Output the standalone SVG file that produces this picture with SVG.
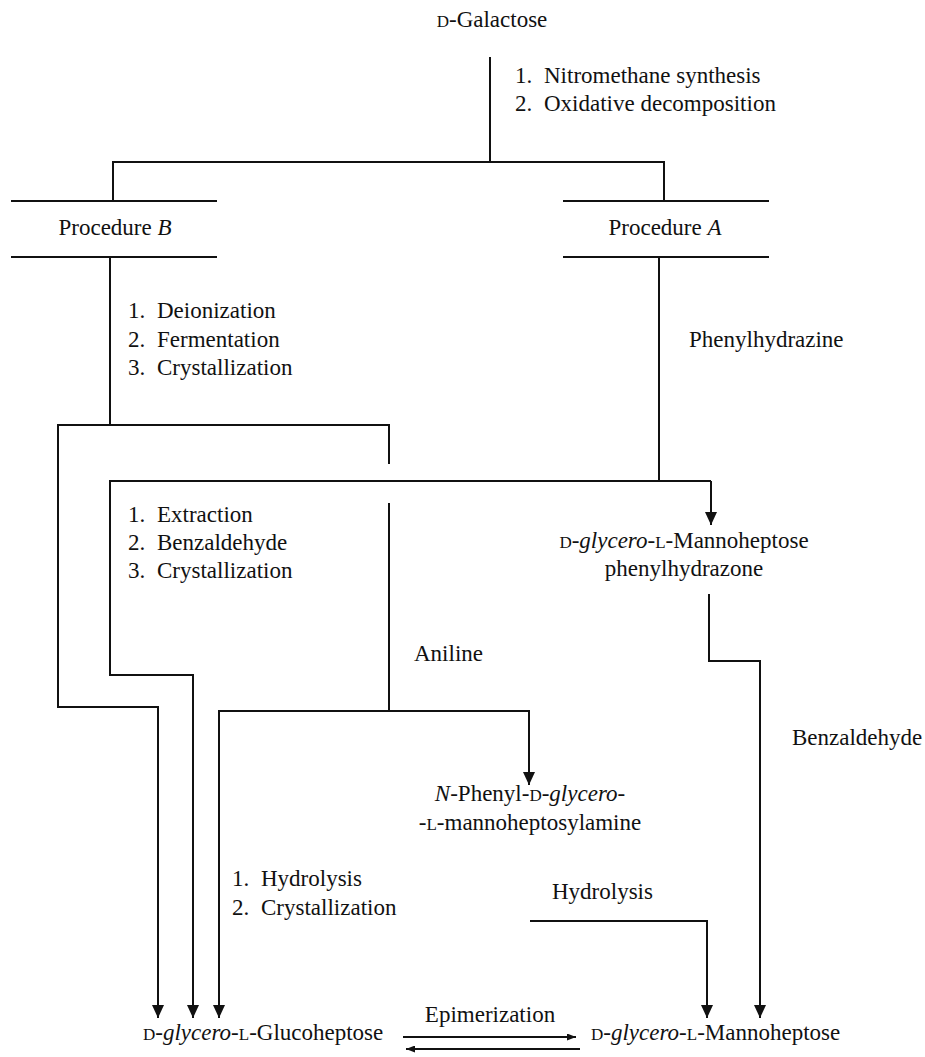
<svg xmlns="http://www.w3.org/2000/svg" width="925" height="1057" viewBox="0 0 925 1057">
<style>
text{font-family:"Liberation Serif","Times New Roman",serif;font-size:23px;fill:#111}
.sc{font-size:17px}
.it{font-style:italic}
.mid{text-anchor:middle}
.ln{fill:none;stroke:#111;stroke-width:2}
</style>
<defs>
<marker id="ah" markerUnits="userSpaceOnUse" markerWidth="13" markerHeight="12" refX="13" refY="6" orient="auto">
<path d="M0,0 L13,6 L0,12 z" fill="#111"/>
</marker>
<marker id="ahs" markerUnits="userSpaceOnUse" markerWidth="9" markerHeight="7" refX="9" refY="3.5" orient="auto">
<path d="M0,0 L9,3.5 L0,7 z" fill="#111"/>
</marker>
</defs>
<rect width="925" height="1057" fill="#fff"/>
<g id="connectors">
<path class="ln" d="M490,57 V162"/>
<path class="ln" d="M113,201 V162 H664 V201"/>
<path class="ln" d="M110,257 V425"/>
<path class="ln" d="M659,257 V481"/>
<path class="ln" d="M389,464 V425 H58 V707 H158 V1018" marker-end="url(#ah)"/>
<path class="ln" d="M711,481 H110 V675 H193 V1018" marker-end="url(#ah)"/>
<path class="ln" d="M711,481 V525" marker-end="url(#ah)"/>
<path class="ln" d="M389,503 V711"/>
<path class="ln" d="M389,711 H219 V1018" marker-end="url(#ah)"/>
<path class="ln" d="M389,711 H529 V785" marker-end="url(#ah)"/>
<path class="ln" d="M709,594 V661 H760 V1018" marker-end="url(#ah)"/>
<path class="ln" d="M530,921 H707 V1018" marker-end="url(#ah)"/>
<path class="ln" d="M403,1037 H576" marker-end="url(#ahs)"/>
<path class="ln" d="M580,1049 H406" marker-end="url(#ahs)"/>
</g>
<g id="galactose">
<text x="492" y="27" class="mid"><tspan class="sc">D</tspan>-Galactose</text>
</g>
<g id="step1-label">
<text x="515" y="83">1. <tspan dx="6">Nitromethane synthesis</tspan></text>
<text x="515" y="111">2. <tspan dx="6">Oxidative decomposition</tspan></text>
</g>
<g id="procedure-b">
<path class="ln" d="M11,201 H217 M11,257 H217"/>
<text x="115" y="235" class="mid">Procedure <tspan class="it">B</tspan></text>
</g>
<g id="procedure-a">
<path class="ln" d="M563,201 H769 M563,257 H769"/>
<text x="665" y="235" class="mid">Procedure <tspan class="it">A</tspan></text>
</g>
<g id="b-steps">
<text x="128" y="318">1. <tspan dx="6">Deionization</tspan></text>
<text x="128" y="347">2. <tspan dx="6">Fermentation</tspan></text>
<text x="128" y="375">3. <tspan dx="6">Crystallization</tspan></text>
</g>
<g id="phenylhydrazine-label">
<text x="689" y="347">Phenylhydrazine</text>
</g>
<g id="extraction-steps">
<text x="128" y="522">1. <tspan dx="6">Extraction</tspan></text>
<text x="128" y="550">2. <tspan dx="6">Benzaldehyde</tspan></text>
<text x="128" y="578">3. <tspan dx="6">Crystallization</tspan></text>
</g>
<g id="phenylhydrazone">
<text x="684" y="548" class="mid"><tspan class="sc">D</tspan>-<tspan class="it">glycero</tspan>-<tspan class="sc">L</tspan>-Mannoheptose</text>
<text x="684" y="576" class="mid">phenylhydrazone</text>
</g>
<g id="aniline-label">
<text x="414" y="661">Aniline</text>
</g>
<g id="benzaldehyde-label">
<text x="792" y="745">Benzaldehyde</text>
</g>
<g id="glycosylamine">
<text x="530" y="801" class="mid"><tspan class="it">N</tspan>-Phenyl-<tspan class="sc">D</tspan>-<tspan class="it">glycero</tspan>-</text>
<text x="530" y="830" class="mid">-<tspan class="sc">L</tspan>-mannoheptosylamine</text>
</g>
<g id="hydrolysis-steps">
<text x="232" y="886">1. <tspan dx="6">Hydrolysis</tspan></text>
<text x="232" y="915">2. <tspan dx="6">Crystallization</tspan></text>
</g>
<g id="hydrolysis-label">
<text x="552" y="899">Hydrolysis</text>
</g>
<g id="epimerization-label">
<text x="490" y="1022" class="mid">Epimerization</text>
</g>
<g id="glucoheptose">
<text x="143" y="1040"><tspan class="sc">D</tspan>-<tspan class="it">glycero</tspan>-<tspan class="sc">L</tspan>-Glucoheptose</text>
</g>
<g id="mannoheptose">
<text x="591" y="1040"><tspan class="sc">D</tspan>-<tspan class="it">glycero</tspan>-<tspan class="sc">L</tspan>-Mannoheptose</text>
</g>
</svg>
